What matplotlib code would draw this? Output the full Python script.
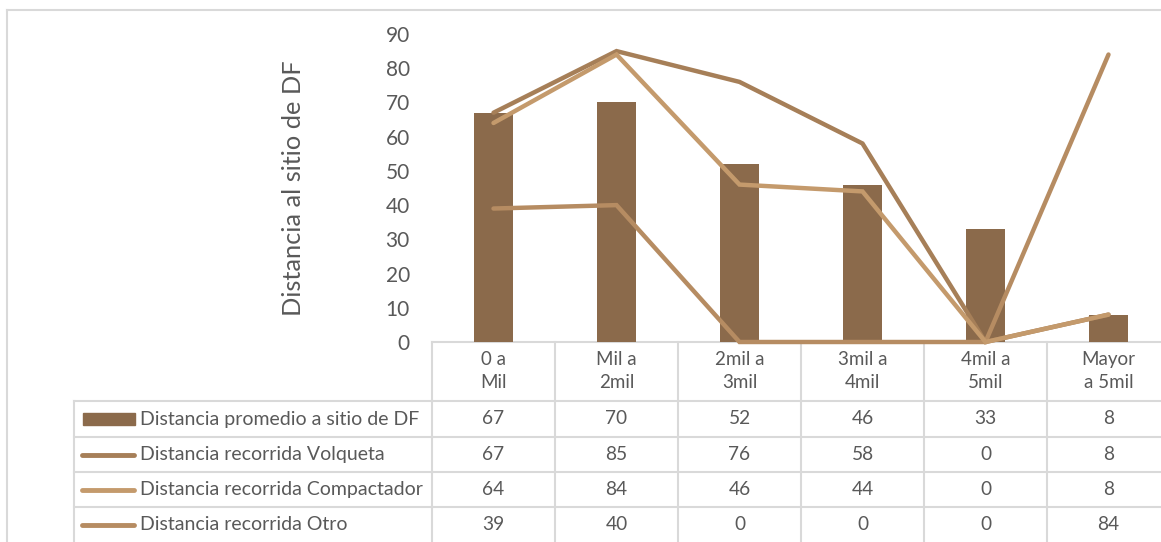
import matplotlib
matplotlib.use("Agg")
import matplotlib.pyplot as plt
from matplotlib.transforms import blended_transform_factory

# ---- data ----
categories = ["0 a\nMil", "Mil a\n2mil", "2mil a\n3mil", "3mil a\n4mil", "4mil a\n5mil", "Mayor\na 5mil"]
promedio = [67, 70, 52, 46, 33, 8]
volqueta = [67, 85, 76, 58, 0, 8]
compactador = [64, 84, 46, 44, 0, 8]
otro = [39, 40, 0, 0, 0, 84]
series_names = [
    "Distancia promedio a sitio de DF",
    "Distancia recorrida Volqueta",
    "Distancia recorrida Compactador",
    "Distancia recorrida Otro",
]
y_ticks = [0, 10, 20, 30, 40, 50, 60, 70, 80, 90]
y_label = "Distancia al sitio de DF"

# ---- style ----
W, H = 1161, 542
FONT = "Lato"
TXT = "#595959"
GRID = "#D9D9D9"
C_BAR = "#8B6A4B"
C_VOL = "#A67F58"
C_COM = "#C49A6C"
C_OTR = "#B68C62"

plt.rcParams["font.family"] = [FONT, "DejaVu Sans"]

fig = plt.figure(figsize=(W / 100, H / 100), dpi=100)


def fy(py):
    return 1 - py / H


def fx(px):
    return px / W


# plot area (extends a little past the right edge)
x0, x1 = 432, 1170
y_top, y_bot = 34, 342
ax = fig.add_axes([fx(x0), fy(y_bot), fx(x1) - fx(x0), fy(y_top) - fy(y_bot)])
ax.set_xlim(-0.5, len(categories) - 0.5)
ax.set_ylim(0, 90)
for s in ax.spines.values():
    s.set_visible(False)
ax.set_xticks([])
ax.set_yticks(y_ticks)
ax.tick_params(axis="y", length=0, pad=16, labelsize=15, labelcolor=TXT)
ax.set_ylabel(y_label, fontsize=18.3, color=TXT, labelpad=58)

xs = list(range(len(categories)))
ax.bar(xs, promedio, width=0.32, color=C_BAR, zorder=2)
lw = 3.2
ax.plot(xs, volqueta, color=C_VOL, lw=lw, solid_capstyle="round", solid_joinstyle="miter", zorder=3, clip_on=False)
ax.plot(xs, compactador, color=C_COM, lw=lw, solid_capstyle="round", solid_joinstyle="miter", zorder=4, clip_on=False)
ax.plot(xs, otro, color=C_OTR, lw=lw, solid_capstyle="round", solid_joinstyle="miter", zorder=3, clip_on=False)

# ---- data table below the plot ----
tr = blended_transform_factory(ax.transData, fig.transFigure)
trf = fig.transFigure
row_lines = [342, 401, 437, 472, 507]
legend_left = 74
bounds = [i - 0.5 for i in range(len(categories) + 1)]

# header row borders
ax.plot([bounds[0], bounds[-1]], [fy(342), fy(342)], transform=tr, color=GRID, lw=1.5, clip_on=False, zorder=1)
for b in bounds:
    ax.plot([b, b], [fy(342), fy(542)], transform=tr, color=GRID, lw=1.5, clip_on=False, zorder=1)
# data row borders
for ry in row_lines[1:]:
    fig.add_artist(plt.Line2D([fx(legend_left), fx(x0)], [fy(ry), fy(ry)], transform=trf, color=GRID, lw=1.5))
    ax.plot([bounds[0], bounds[-1]], [fy(ry), fy(ry)], transform=tr, color=GRID, lw=1.5, clip_on=False, zorder=1)
fig.add_artist(plt.Line2D([fx(legend_left), fx(legend_left)], [fy(401), fy(542)], transform=trf, color=GRID, lw=1.5))

# outer chart border
fig.add_artist(plt.Line2D([fx(7), fx(7)], [fy(10), fy(545)], transform=trf, color=GRID, lw=1.5))
fig.add_artist(plt.Line2D([fx(7), fx(1165)], [fy(10), fy(10)], transform=trf, color=GRID, lw=1.5))

# header text
for i, c in enumerate(categories):
    ax.text(i, fy(371), c, transform=tr, ha="center", va="center", fontsize=13.5, color=TXT,
            linespacing=1.45)

# body text
table_rows = [promedio, volqueta, compactador, otro]
row_centers = [(row_lines[k] + (row_lines[k + 1] if k + 1 < len(row_lines) else 542)) / 2
               for k in range(1, len(row_lines))]
for vals, cy in zip(table_rows, row_centers):
    for i, v in enumerate(vals):
        ax.text(i, fy(cy), str(v), transform=tr, ha="center", va="center", fontsize=13.8, color=TXT)

# legend keys + names
key_colors = [C_BAR, C_VOL, C_COM, C_OTR]
for k, (name, col, cy) in enumerate(zip(series_names, key_colors, row_centers)):
    if k == 0:
        fig.add_artist(plt.Rectangle((fx(83), fy(cy + 6)), fx(52) - fx(0), fy(0) - fy(12),
                                     transform=trf, color=col))
    else:
        fig.add_artist(plt.Line2D([fx(82), fx(134)], [fy(cy), fy(cy)], transform=trf, color=col,
                                  lw=3.5, solid_capstyle="round"))
    fig.text(fx(140), fy(cy), name, ha="left", va="center", fontsize=14.0, color=TXT)

fig.savefig("out.png", dpi=100)
